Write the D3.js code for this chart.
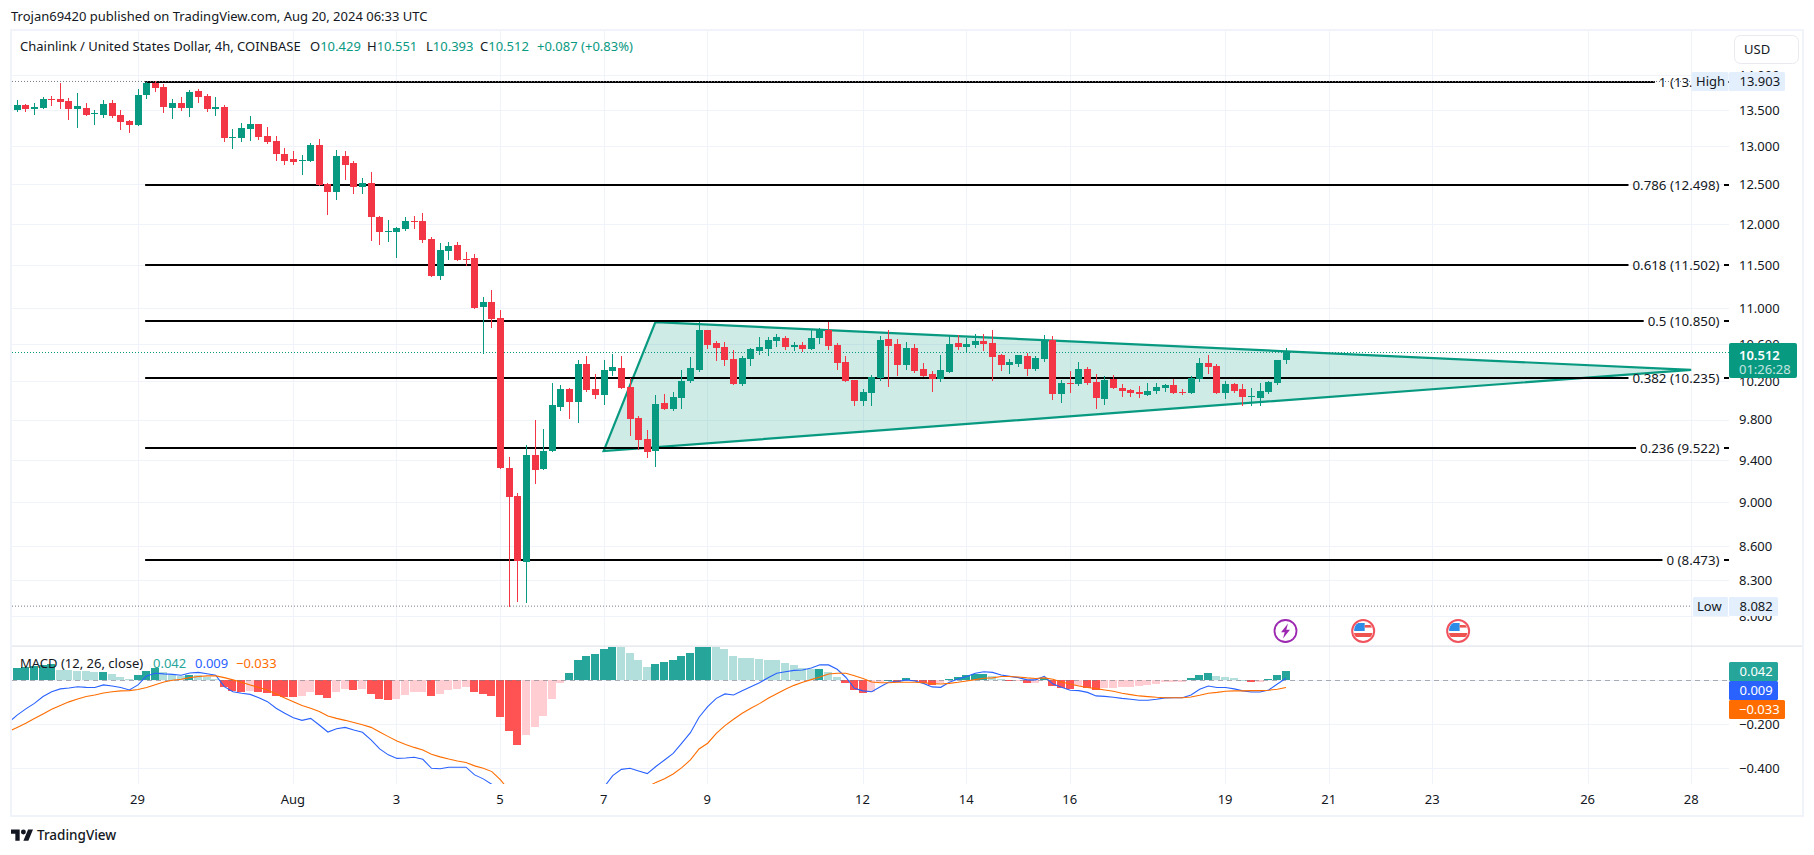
<!DOCTYPE html>
<html><head><meta charset="utf-8">
<script src="https://cdn.jsdelivr.net/npm/d3@7/dist/d3.min.js"></script>
<style>html,body{margin:0;padding:0;background:#fff}svg{display:block}text{font-family:"Noto Sans",Roboto,sans-serif;fill:#131722}</style>
</head><body><div id="chart"></div>
<script>
const opens=[13.500,13.570,13.514,13.528,13.654,13.654,13.626,13.514,13.528,13.445,
13.431,13.598,13.431,13.347,13.293,13.711,13.883,13.825,13.528,13.598,
13.528,13.768,13.697,13.514,13.542,13.115,13.115,13.238,13.306,13.142,
13.075,12.900,12.833,12.807,12.807,13.021,12.506,12.402,12.873,12.780,
12.467,12.519,12.086,11.900,11.900,11.937,12.037,12.037,11.814,11.371,
11.669,11.741,11.572,11.584,11.012,11.069,10.887,9.322,9.056,8.458,
9.449,9.314,9.488,9.930,10.117,9.981,10.382,10.117,10.054,10.307,
10.339,10.138,9.818,9.607,9.488,9.971,9.909,10.023,10.201,10.318,
10.753,10.609,10.566,10.436,10.169,10.436,10.522,10.544,10.631,10.664,
10.566,10.587,10.544,10.664,10.753,10.587,10.404,10.211,9.992,10.075,
10.232,10.653,10.598,10.371,10.555,10.329,10.276,10.222,10.297,10.609,
10.566,10.587,10.631,10.609,10.479,10.371,10.382,10.468,10.329,10.436,
10.642,10.064,10.180,10.169,10.329,10.190,10.012,10.222,10.127,10.106,
10.085,10.054,10.096,10.127,10.159,10.085,10.075,10.222,10.393,10.361,
10.075,10.169,10.117,10.033,10.023,10.085,10.180,10.429];
const highs=[13.640,13.584,13.598,13.682,13.697,13.883,13.668,13.739,13.598,13.500,
13.640,13.640,13.500,13.361,13.796,13.897,13.912,13.868,13.654,13.682,
13.782,13.796,13.725,13.682,13.570,13.238,13.320,13.417,13.306,13.265,
13.142,12.980,12.940,12.887,13.048,13.102,12.519,12.953,12.940,12.807,
12.584,12.662,12.099,12.049,11.962,12.086,12.099,12.136,11.838,11.765,
11.778,11.778,11.657,11.633,11.126,11.207,10.978,9.429,9.085,9.547,
9.798,9.707,10.180,10.159,10.127,10.425,10.468,10.276,10.425,10.490,
10.468,10.232,9.838,9.697,10.054,10.064,10.085,10.318,10.457,10.843,
10.753,10.631,10.620,10.533,10.468,10.555,10.675,10.675,10.708,10.686,
10.620,10.620,10.764,10.775,10.843,10.609,10.468,10.211,10.117,10.265,
10.686,10.753,10.653,10.620,10.598,10.393,10.307,10.479,10.686,10.697,
10.664,10.708,10.708,10.753,10.490,10.436,10.479,10.501,10.468,10.697,
10.686,10.211,10.307,10.404,10.350,10.276,10.254,10.265,10.169,10.117,
10.148,10.180,10.180,10.169,10.222,10.117,10.254,10.446,10.479,10.382,
10.201,10.180,10.169,10.127,10.180,10.201,10.425,10.551];
const lows=[13.486,13.486,13.445,13.528,13.570,13.528,13.375,13.265,13.431,13.306,
13.403,13.403,13.238,13.197,13.293,13.668,13.768,13.472,13.389,13.500,
13.417,13.612,13.486,13.431,13.075,12.980,13.075,13.088,13.102,13.048,
12.820,12.767,12.767,12.636,12.807,12.493,12.124,12.314,12.571,12.389,
12.389,11.802,11.753,11.790,11.596,11.925,11.950,11.778,11.371,11.336,
11.572,11.560,11.500,11.001,10.501,10.786,9.322,8.082,8.125,8.117,
9.180,9.314,9.488,9.899,9.818,9.778,10.096,10.023,9.961,10.265,
10.127,9.647,9.508,9.429,9.342,9.909,9.899,9.919,10.190,10.307,
10.555,10.425,10.371,10.169,10.159,10.371,10.490,10.479,10.577,10.544,
10.533,10.522,10.544,10.609,10.544,10.329,10.201,9.950,9.950,9.950,
10.211,10.148,10.265,10.329,10.297,10.254,10.096,10.201,10.297,10.544,
10.522,10.566,10.533,10.211,10.318,10.286,10.361,10.265,10.318,10.414,
10.012,9.981,10.085,10.159,10.169,9.919,9.961,10.127,10.044,10.044,
10.033,10.054,10.075,10.096,10.075,10.064,10.075,10.201,10.286,10.075,
10.023,10.085,9.950,9.950,9.950,10.075,10.169,10.393];
const closes=[13.570,13.514,13.542,13.654,13.640,13.612,13.514,13.556,13.431,13.458,
13.584,13.417,13.334,13.293,13.711,13.883,13.811,13.542,13.598,13.528,
13.754,13.682,13.514,13.542,13.115,13.129,13.251,13.306,13.129,13.061,
12.900,12.807,12.794,12.820,13.021,12.493,12.402,12.873,12.754,12.467,
12.519,12.086,11.900,11.912,11.950,12.037,12.024,11.802,11.371,11.681,
11.729,11.560,11.560,11.001,11.069,10.876,9.322,9.047,8.467,9.449,
9.304,9.488,9.950,10.117,9.981,10.382,10.106,10.054,10.318,10.350,
10.127,9.808,9.597,9.478,9.961,9.909,10.033,10.201,10.339,10.753,
10.587,10.555,10.425,10.169,10.446,10.544,10.566,10.642,10.675,10.566,
10.587,10.544,10.664,10.753,10.577,10.393,10.201,9.992,10.085,10.243,
10.642,10.577,10.371,10.555,10.307,10.254,10.222,10.318,10.598,10.566,
10.598,10.631,10.598,10.457,10.371,10.404,10.479,10.329,10.446,10.642,
10.064,10.180,10.169,10.329,10.180,10.023,10.211,10.127,10.096,10.075,
10.064,10.096,10.138,10.159,10.075,10.075,10.232,10.393,10.350,10.075,
10.169,10.096,10.033,10.044,10.096,10.190,10.425,10.512];

const histogram=[.055,.059,.064,.070,.076,.047,.045,.044,.042,.036,
.038,.029,.015,.005,.024,.042,.055,.038,.023,.020,
.024,.023,.014,.005,-.030,-.048,-.055,-.048,-.055,-.059,
-.071,-.076,-.077,-.071,-.053,-.067,-.080,-.053,-.039,-.044,
-.039,-.062,-.085,-.089,-.085,-.067,-.053,-.052,-.071,-.062,
-.044,-.039,-.030,-.053,-.062,-.071,-.167,-.230,-.294,-.248,
-.212,-.162,-.085,-.012,.033,.092,.111,.120,.142,.155,
.153,.124,.092,.061,.074,.083,.092,.111,.124,.155,
.158,.155,.142,.111,.102,.101,.097,.092,.091,.079,
.070,.056,.052,.053,.038,.015,-.012,-.044,-.058,-.053,
-.008,.002,-.008,.011,-.003,-.012,-.021,-.012,.006,.015,
.024,.027,.029,.020,.006,-.003,-.002,-.012,-.011,.011,
-.026,-.035,-.041,-.026,-.035,-.044,-.035,-.034,-.030,-.029,
-.026,-.021,-.017,-.008,-.007,-.006,.011,.024,.033,.020,
.015,.011,.002,-.008,-.006,.006,.024,.042];
// first entry of each line belongs to the bar just left of the pane
const macdLine=[-.192,-.158,-.130,-.105,-.074,-.052,-.039,-.035,-.029,-.032,-.033,
-.021,-.026,-.033,-.044,-.021,.020,.032,.029,.027,.023,
.033,.036,.030,.023,-.029,-.052,-.059,-.064,-.079,-.097,
-.127,-.150,-.170,-.182,-.173,-.203,-.235,-.220,-.214,-.226,
-.236,-.271,-.312,-.339,-.355,-.353,-.350,-.359,-.400,-.402,
-.395,-.395,-.395,-.430,-.448,-.473,-.62,-.73,-.87,-.89,
-.91,-.90,-.84,-.76,-.70,-.63,-.58,-.53,-.485,-.433,
-.405,-.400,-.412,-.424,-.392,-.362,-.332,-.286,-.238,-.168,
-.120,-.082,-.062,-.067,-.047,-.029,-.011,.012,.032,.039,
.045,.047,.056,.071,.070,.050,.014,-.036,-.048,-.052,
-.029,-.008,-.006,.002,-.003,-.014,-.030,-.032,-.009,.006,
.017,.032,.039,.036,.024,.018,.012,.002,.002,.018,
-.017,-.032,-.045,-.047,-.055,-.071,-.073,-.077,-.082,-.086,
-.091,-.091,-.086,-.080,-.079,-.079,-.067,-.041,-.026,-.033,
-.033,-.039,-.048,-.053,-.053,-.044,-.017,.009];
const signalLine=[-.233,-.214,-.195,-.174,-.153,-.132,-.114,-.098,-.085,-.074,-.067,
-.058,-.052,-.048,-.047,-.042,-.033,-.020,-.008,0,.005,
.012,.017,.020,.020,.012,.002,-.009,-.021,-.033,-.044,
-.062,-.080,-.098,-.115,-.127,-.142,-.162,-.173,-.182,-.192,
-.202,-.214,-.235,-.256,-.276,-.292,-.305,-.317,-.336,-.348,
-.358,-.367,-.374,-.389,-.400,-.415,-.453,-.50,-.576,-.642,
-.698,-.738,-.755,-.75,-.735,-.72,-.69,-.65,-.627,-.588,
-.558,-.524,-.504,-.485,-.464,-.447,-.426,-.397,-.362,-.312,
-.286,-.241,-.206,-.177,-.150,-.127,-.106,-.082,-.061,-.041,
-.023,-.009,.003,.015,.029,.032,.032,.021,.008,-.008,
-.011,-.011,-.009,-.009,-.009,-.011,-.015,-.017,-.014,-.009,
-.003,.003,.009,.011,.017,.017,.015,.011,.008,.011,
.005,-.008,-.017,-.026,-.033,-.038,-.044,-.050,-.059,-.065,
-.071,-.074,-.077,-.079,-.079,-.079,-.076,-.068,-.059,-.055,
-.050,-.048,-.048,-.047,-.047,-.045,-.041,-.033];

const dateTickBars=[14,32,44,56,68,80,98,110,122,140,152,164,182,194];
const dateTickLabels=["29","Aug","3","5","7","9","12","14","16","19","21","23","26","28"];
const priceTicks=[14,13.5,13,12.5,12,11.5,11,10.6,10.2,9.8,9.4,9,8.6,8.3,8];
const macdTicks=[-0.2,-0.4];
const macdGrid=[0,-0.2,-0.4];
const fibRatios=["1","0.786","0.618","0.5","0.382","0.236","0"];
const fibPrices=[13.903,12.498,11.502,10.850,10.235,9.522,8.473];
const triangleBars=[68,74,194];
const trianglePrices=[9.488,10.840,10.318];
const highPrice=13.903, lowPrice=8.082, lastPrice=10.512;
const usEventBars=[156,167], splitEventBar=147;

const W=1814,H=855,L=12,R=1729,T=30,PB=646,MB=784,FB=816;
const GRID="#F0F3FA",UP="#089981",DN="#F23645";
const svg=d3.select("#chart").append("svg").attr("width",W).attr("height",H).attr("viewBox",[0,0,W,H]);
const defs=svg.append("defs");
defs.append("clipPath").attr("id","mainClip").append("rect").attr("x",L).attr("y",T).attr("width",R-L).attr("height",PB-T);
defs.append("clipPath").attr("id","macdClip").append("rect").attr("x",L).attr("y",PB+1).attr("width",R-L).attr("height",MB-PB-1);

const x=d3.scaleLinear().domain([0,147]).range([16.66,1285.5]);
const col=i=>Math.round(x(i));
const y=d3.scaleLog().domain([8,13.5]).range([616,110]);
const ym=d3.scaleLinear().domain([0,-0.4]).range([680.3,768.3]);

// header
svg.append("text").attr("x",11).attr("y",21).attr("font-size",13)
  .text("Trojan69420 published on TradingView.com, Aug 20, 2024 06:33 UTC");

// grid
const grid=svg.append("g").attr("shape-rendering","crispEdges");
grid.selectAll(".v").data(dateTickBars).join("line")
  .attr("x1",d=>col(d)+.5).attr("x2",d=>col(d)+.5).attr("y1",T).attr("y2",MB).attr("stroke",GRID);
grid.selectAll(".hm").data(priceTicks).join("line")
  .attr("x1",L).attr("x2",R).attr("y1",d=>Math.round(y(d))+.5).attr("y2",d=>Math.round(y(d))+.5).attr("stroke",GRID);
grid.selectAll(".hd").data(macdGrid).join("line")
  .attr("x1",L).attr("x2",R).attr("y1",d=>Math.round(ym(d))+.5).attr("y2",d=>Math.round(ym(d))+.5).attr("stroke",GRID);

// price axis labels
const fmt3=d3.format(".3f");
const axisY=d3.axisRight(y).tickValues(priceTicks).tickFormat(fmt3).tickSize(0).tickPadding(10);
const gy=svg.append("g").attr("transform",`translate(${R},0)`).call(axisY);
gy.select(".domain").remove();
const axisM=d3.axisRight(ym).tickValues(macdTicks).tickFormat(d=>"\u2212"+fmt3(-d)).tickSize(0).tickPadding(10);
const gm=svg.append("g").attr("transform",`translate(${R},0)`).call(axisM);
gm.select(".domain").remove();
const axisX=d3.axisBottom(d3.scaleLinear().domain(x.domain()).range(x.range())).tickValues(dateTickBars)
  .tickFormat((d,i)=>dateTickLabels[i]).tickSize(0).tickPadding(11);
const gx=svg.append("g").attr("transform",`translate(-0.5,${MB})`).call(axisX);
gx.select(".domain").remove();
svg.selectAll(".tick text").attr("font-size",13).attr("font-family",null).style("fill","#131722");
[gy,gm,gx].forEach(g=>g.attr("font-family",null));

const main=svg.append("g");
const clipped=main.append("g").attr("clip-path","url(#mainClip)");

// dotted low / last lines
clipped.append("line").attr("x1",L).attr("x2",1692).attr("y1",y(lowPrice)).attr("y2",y(lowPrice))
  .attr("stroke","#787B86").attr("stroke-dasharray","1 2");
clipped.append("line").attr("x1",L).attr("x2",R).attr("y1",Math.round(y(lastPrice))+.5).attr("y2",Math.round(y(lastPrice))+.5)
  .attr("stroke",UP).attr("stroke-dasharray","1 2");

// fib levels
const fib=main.append("g");
fibRatios.forEach((r,k)=>{
  const py=Math.round(y(fibPrices[k]));
  const t=fib.append("text").attr("x",1719.5).attr("y",py).attr("dy",".35em").attr("text-anchor","end").attr("font-size",13.3)
    .text(`${r} (${fmt3(fibPrices[k])})`);
  const w=t.node().getComputedTextLength();
  fib.append("rect").attr("x",x(15)-1).attr("y",py-1).attr("width",1719.5-w-4-(x(15)-1)).attr("height",2).attr("fill","#000");
  fib.append("rect").attr("x",1724).attr("y",py-1).attr("width",5).attr("height",2).attr("fill","#000");
});

// dotted high line runs over the top fib level
main.append("line").attr("clip-path","url(#mainClip)").attr("x1",L).attr("x2",1692)
  .attr("stroke","#787B86").attr("stroke-dasharray","1 2").datum(highPrice).attr("y1",d=>y(d)-.1).attr("y2",d=>y(d)-.1);

// triangle
const tri=d3.line().x((d,i)=>x(triangleBars[i])).y((d,i)=>y(trianglePrices[i])).curve(d3.curveLinearClosed);
clipped.append("path").attr("d",tri(trianglePrices)).attr("fill",UP).attr("fill-opacity",.2)
  .attr("stroke",UP).attr("stroke-width",2.2).attr("stroke-linejoin","miter");

// candles
const candles=main.append("g").attr("clip-path","url(#mainClip)").attr("shape-rendering","crispEdges");
const idx=d3.range(opens.length);
const cc=i=>closes[i]>=opens[i]?UP:DN;
candles.selectAll(".w").data(idx).join("rect").attr("x",col).attr("width",1)
  .attr("y",i=>Math.round(y(highs[i]))).attr("height",i=>Math.max(1,Math.round(y(lows[i]))-Math.round(y(highs[i])))+1)
  .attr("fill",cc);
candles.selectAll(".b").data(idx).join("rect").attr("x",i=>col(i)-3).attr("width",7)
  .attr("y",i=>Math.round(y(Math.max(opens[i],closes[i]))))
  .attr("height",i=>Math.max(1,Math.round(y(Math.min(opens[i],closes[i])))-Math.round(y(Math.max(opens[i],closes[i])))))
  .attr("fill",cc);

// events
const ev=svg.append("g");
const sg=ev.append("g").attr("transform",`translate(${x(splitEventBar)},631)`);
sg.append("circle").attr("r",11).attr("fill","#fff").attr("stroke","#9C27B0").attr("stroke-width",1.8);
sg.append("path").attr("d","M2.5,-7.5 L-4.5,1.2 L-0.8,1.2 L-2.5,7.5 L4.5,-1.2 L0.8,-1.2 Z").attr("fill","#9C27B0");
usEventBars.forEach((b,n)=>{
  const id="fl"+n;
  const g=ev.append("g").attr("transform",`translate(${x(b)},631)`);
  defs.append("clipPath").attr("id",id).append("circle").attr("r",9.5);
  g.append("circle").attr("r",11).attr("fill","#fff").attr("stroke","#F0535E").attr("stroke-width",2);
  const c=g.append("g").attr("clip-path",`url(#${id})`);
  c.append("rect").attr("x",-9).attr("y",-8).attr("width",10.5).attr("height",8).attr("fill","#2C8CE8");
  c.append("rect").attr("x",1.5).attr("y",-6).attr("width",9).attr("height",2.6).attr("fill","#EF5350");
  c.append("rect").attr("x",-10).attr("y",2).attr("width",20).attr("height",4).attr("fill","#EF5350");
});

// MACD pane
svg.append("rect").attr("x",L-2).attr("y",PB-.5).attr("width",1803-L+2).attr("height",1.2).attr("fill","#E0E3EB");
const mac=svg.append("g").attr("clip-path","url(#macdClip)");
const histColor=i=>{
  const v=histogram[i],p=i>0?histogram[i-1]:-1;
  return v>=0?(v>=p?"#26A69A":"#B2DFDB"):(v<p?"#FF5252":"#FFCDD2");
};
mac.append("g").attr("shape-rendering","crispEdges").selectAll("rect").data(idx).join("rect")
  .attr("x",i=>col(i)-4).attr("width",8)
  .attr("y",i=>Math.round(Math.min(ym(0),ym(histogram[i]))))
  .attr("height",i=>Math.max(1,Math.abs(Math.round(ym(histogram[i]))-Math.round(ym(0)))))
  .attr("fill",histColor);
mac.append("line").attr("x1",L).attr("x2",R).attr("y1",680.5).attr("y2",680.5)
  .attr("stroke","#787B86").attr("stroke-opacity",.6).attr("stroke-dasharray","5 4");
const ln=d3.line().x((d,i)=>x(i-1)+.5).y(d=>ym(d));
mac.append("path").attr("d",ln(macdLine)).attr("fill","none").attr("stroke","#2962FF").attr("stroke-width",1.1);
mac.append("path").attr("d",ln(signalLine)).attr("fill","none").attr("stroke","#FF6D00").attr("stroke-width",1.1);

// legends
const leg=(xp,yp,str,col2)=>svg.append("text").attr("x",xp).attr("y",yp).attr("font-size",13).style("fill",col2||"#131722").text(str);
leg(20,51,"Chainlink / United States Dollar, 4h, COINBASE");
[["O","10.429",310],["H","10.551",367],["L","10.393",426],["C","10.512",480]].forEach(d=>{
  const t=svg.append("text").attr("x",d[2]).attr("y",51).attr("font-size",13);
  t.append("tspan").text(d[0]);
  t.append("tspan").style("fill",UP).text(d[1]);
});
leg(537,51,"+0.087 (+0.83%)",UP);
leg(20,668,"MACD (12, 26, close)");
leg(153,668,"0.042","#26A69A");
leg(195,668,"0.009","#2962FF");
leg(236,668,"\u22120.033","#FF6D00");

// frame
svg.append("rect").attr("x",11).attr("y",30).attr("width",1792).attr("height",786).attr("fill","none").attr("stroke","#F0F3FA").attr("stroke-width",2);

// USD box
svg.append("rect").attr("x",1734.5).attr("y",35.5).attr("width",64).attr("height",28).attr("rx",6).attr("fill","#fff").attr("stroke","#E8EAF0");
svg.append("text").attr("x",1744).attr("y",54).attr("font-size",13).text("USD");

// value tags
function tag(x0,y0,w,h,fill,str,color,weight,anchorX){
  svg.append("rect").attr("x",x0).attr("y",y0).attr("width",w).attr("height",h).attr("rx",1.5).attr("fill",fill);
  return svg.append("text").attr("x",anchorX).attr("y",y0+h/2).attr("dy",".35em").attr("font-size",13)
    .attr("font-weight",weight||400).style("fill",color).text(str);
}
tag(1691.5,72,37,19,"#E3EFFD","High","#131722",400,1696);
tag(1729,72,56,19,"#E3EFFD",fmt3(highPrice),"#131722",400,1739.5);
tag(1693,597,35,19,"#E3EFFD","Low","#131722",400,1697);
tag(1729,597,49,19,"#E3EFFD",fmt3(lowPrice),"#131722",400,1739.5);
svg.append("rect").attr("x",1729).attr("y",343).attr("width",68).attr("height",35).attr("rx",2).attr("fill",UP);
svg.append("text").attr("x",1739).attr("y",355).attr("dy",".35em").attr("font-size",13).attr("font-weight",600).style("fill","#fff").text(fmt3(lastPrice));
svg.append("text").attr("x",1739).attr("y",369).attr("dy",".35em").attr("font-size",13).style("fill","#fff").style("opacity",.75).text("01:26:28");
tag(1729,662,49,19,"#26A69A","0.042","#fff",400,1739.5);
tag(1729,681,49,19,"#2962FF","0.009","#fff",400,1739.5);
tag(1729,700,56,19,"#FF6D00","\u22120.033","#fff",400,1739);

// logo
const lg=svg.append("g").attr("transform","translate(11,827) scale(0.62)");
lg.append("path").attr("d","M14 22H7V11H0V4h14v18zM28 22h-8l7.5-18h8L28 22z").attr("fill","#131722");
lg.append("circle").attr("cx",20).attr("cy",8).attr("r",4).attr("fill","#131722");
svg.append("text").attr("x",37).attr("y",840).attr("font-size",13.5).attr("font-weight",500).text("TradingView");
</script></body></html>
